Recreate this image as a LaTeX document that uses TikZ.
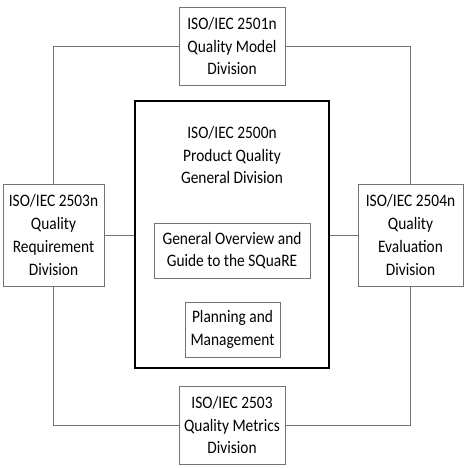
\documentclass[tikz,border=0pt]{standalone}
\usepackage{fontspec}
\setmainfont{Carlito}[FakeStretch=0.88]
\begin{document}
\begin{tikzpicture}[x=1pt,y=-1pt,
  every node/.style={font=\fontsize{17.5}{22.8}\selectfont, align=center, inner sep=0pt},
  gbox/.style={draw=black!55, line width=1pt},
  cbox/.style={draw=black, line width=2pt},
  conn/.style={draw=black!55, line width=1pt}]
\useasboundingbox (0,0) rectangle (469,467);
\node[gbox, minimum width=106, minimum height=78] (top) at (232,46) {ISO/IEC 2501n\\Quality Model\\Division};
\node[cbox, minimum width=194, minimum height=267] (cen) at (232,234.5) {};
\node (title) at (232,155) {ISO/IEC 2500n\\Product Quality\\General Division};
\node[gbox, minimum width=101, minimum height=102] (left) at (53.5,235) {ISO/IEC 2503n\\Quality\\Requirement\\Division};
\node[gbox, minimum width=105, minimum height=102] (right) at (410.5,235) {ISO/IEC 2504n\\Quality\\Evaluation\\Division};
\node[gbox, minimum width=106, minimum height=78] (bot) at (232,425) {ISO/IEC 2503\\Quality Metrics\\Division};
\node[gbox, minimum width=156, minimum height=55] (gen) at (232,250.5) {General Overview and\\Guide to the SQuaRE};
\node[gbox, minimum width=95, minimum height=55] (plan) at (232.5,329.5) {Planning and\\Management};
\draw[conn] (top.west) -| (left.north);
\draw[conn] (top.east) -| (right.north);
\draw[conn] (bot.west) -| (left.south);
\draw[conn] (bot.east) -| (right.south);
\draw[conn] (left.east) -- (left.east -| cen.west);
\draw[conn] (right.west) -- (right.west -| cen.east);
\end{tikzpicture}
\end{document}
